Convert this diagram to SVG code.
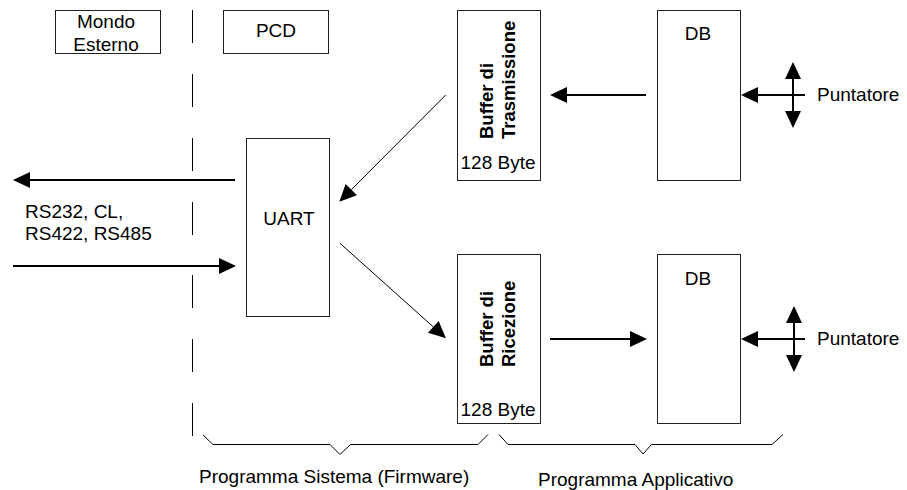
<svg xmlns="http://www.w3.org/2000/svg" width="907" height="490" viewBox="0 0 907 490">
<style>
  .box{fill:#fff;stroke:#222;stroke-width:1}
  text{font-family:"Liberation Sans",Arial,sans-serif;font-size:19px;fill:#000}
  .c{text-anchor:middle}
  .b{font-weight:bold;font-size:18.5px}
  .thick{stroke:#000;stroke-width:2;fill:none}
  .thin{stroke:#000;stroke-width:1;fill:none}
  .dash{stroke:#000;stroke-width:1;stroke-dasharray:33 31;fill:none}
</style>
<defs>
  <marker id="ah" markerUnits="userSpaceOnUse" markerWidth="17" markerHeight="16" refX="0" refY="8" orient="auto-start-reverse" overflow="visible">
    <path d="M0,0 L17,8 L0,16 z" fill="#000"/>
  </marker>
</defs>
<rect width="907" height="490" fill="#fff"/>

<g id="mondo-esterno">
  <rect class="box" x="55.5" y="10.5" width="105" height="43"/>
  <text class="c" x="106" y="28">Mondo</text>
  <text class="c" x="106" y="51">Esterno</text>
</g>
<g id="pcd">
  <rect class="box" x="223.5" y="10.5" width="105" height="43"/>
  <text class="c" x="276" y="37">PCD</text>
</g>
<g id="uart">
  <rect class="box" x="246.5" y="138.5" width="83" height="178"/>
  <text class="c" x="289" y="225">UART</text>
</g>
<g id="buffer-tx">
  <rect class="box" x="457.5" y="10.5" width="83" height="170"/>
  <text class="b" transform="translate(493,139) rotate(-90)">Buffer di</text>
  <text class="b" transform="translate(515,139) rotate(-90)">Trasmissione</text>
  <text class="c" x="498" y="169">128 Byte</text>
</g>
<g id="buffer-rx">
  <rect class="box" x="457.5" y="254.5" width="83" height="169"/>
  <text class="b" transform="translate(493,367) rotate(-90)">Buffer di</text>
  <text class="b" transform="translate(515,367) rotate(-90)">Ricezione</text>
  <text class="c" x="498" y="416">128 Byte</text>
</g>
<g id="db-top">
  <rect class="box" x="657.5" y="10.5" width="83" height="170"/>
  <text class="c" x="698" y="40">DB</text>
</g>
<g id="db-bottom">
  <rect class="box" x="657.5" y="254.5" width="83" height="169"/>
  <text class="c" x="698" y="285">DB</text>
</g>

<g id="labels">
  <text x="25" y="218">RS232, CL,</text>
  <text x="25" y="240">RS422, RS485</text>
  <text x="817" y="101">Puntatore</text>
  <text x="817" y="345">Puntatore</text>
  <text x="199" y="483">Programma Sistema (Firmware)</text>
  <text x="538" y="486">Programma Applicativo</text>
</g>

<g id="connectors">
  <line class="dash" x1="192.5" y1="10" x2="192.5" y2="235"/>
  <line class="dash" x1="192.5" y1="275" x2="192.5" y2="436"/>
  <line class="thick" x1="235" y1="180" x2="30" y2="180" marker-end="url(#ah)"/>
  <line class="thick" x1="13" y1="266" x2="219" y2="266" marker-end="url(#ah)"/>
  <line class="thin" x1="445.7" y1="95" x2="351.3" y2="189.7" marker-end="url(#ah)"/>
  <line class="thin" x1="340" y1="243.3" x2="433.3" y2="326.9" marker-end="url(#ah)"/>
  <line class="thick" x1="646" y1="95" x2="567" y2="95" marker-end="url(#ah)"/>
  <line class="thick" x1="550" y1="339" x2="630" y2="339" marker-end="url(#ah)"/>
  <line class="thick" x1="805" y1="95" x2="758" y2="95" marker-end="url(#ah)"/>
  <line class="thick" x1="805" y1="339" x2="758" y2="339" marker-end="url(#ah)"/>
  <line class="thick" x1="793" y1="79" x2="793" y2="111" marker-start="url(#ah)" marker-end="url(#ah)"/>
  <line class="thick" x1="794" y1="323" x2="794" y2="355" marker-start="url(#ah)" marker-end="url(#ah)"/>
  <polyline class="thin" points="203,435 213,444.5 330,444.5 340,454.5 350.5,444.5 478,444.5 488,434.5"/>
  <polyline class="thin" points="499,434.5 508,444.5 635,444.5 643,454 651.5,444.5 772,444.5 783,434.5"/>
</g>
</svg>
